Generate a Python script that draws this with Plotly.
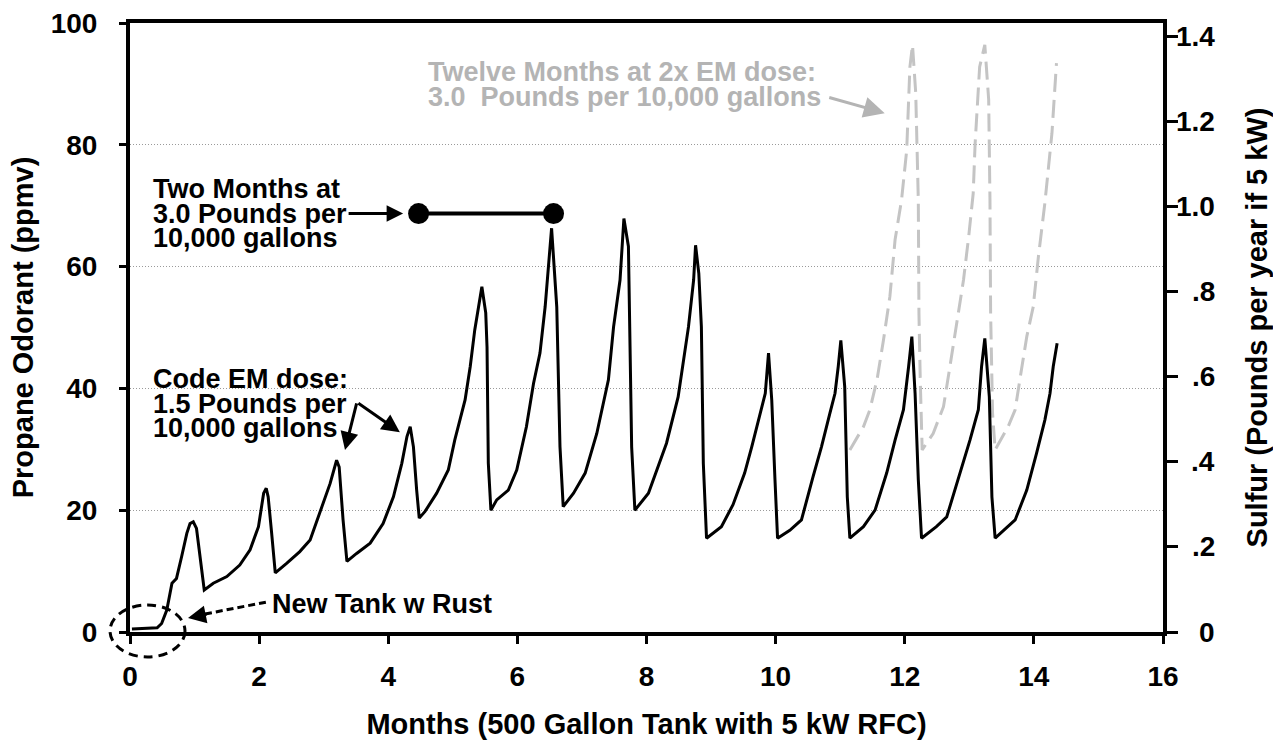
import plotly.graph_objects as go

# Measured propane odorant concentration (ppmv) versus months in service
months = [0.03, 0.42, 0.49, 0.57, 0.65, 0.72, 0.80, 0.88, 0.93, 0.98, 1.03, 1.08, 1.15,
          1.29, 1.50, 1.70, 1.86, 1.99, 2.07, 2.11, 2.14, 2.19, 2.25,
          2.43, 2.63, 2.79, 2.97, 3.10, 3.20, 3.24, 3.30, 3.36,
          3.51, 3.72, 3.92, 4.08, 4.21, 4.29, 4.34, 4.39, 4.44, 4.48,
          4.57, 4.75, 4.93, 5.03, 5.19, 5.27, 5.34, 5.45, 5.51, 5.53, 5.55, 5.59,
          5.68, 5.86, 5.99, 6.14, 6.25, 6.35, 6.43, 6.48, 6.53, 6.61, 6.66, 6.71,
          6.87, 7.05, 7.23, 7.41, 7.49, 7.59, 7.65, 7.72, 7.74, 7.77, 7.82,
          8.03, 8.31, 8.49, 8.65, 8.73, 8.76, 8.81, 8.85, 8.88, 8.93,
          9.16, 9.34, 9.52, 9.63, 9.76, 9.84, 9.89, 9.94, 9.99, 10.03,
          10.22, 10.40, 10.58, 10.71, 10.84, 10.92, 10.97, 11.01, 11.07, 11.11, 11.15,
          11.36, 11.54, 11.72, 11.85, 11.98, 12.06, 12.11, 12.16, 12.21, 12.26,
          12.49, 12.65, 12.86, 13.01, 13.14, 13.19, 13.24, 13.31, 13.35, 13.40,
          13.71, 13.89, 14.04, 14.17, 14.25, 14.30, 14.36]
odorant = [0.5, 0.7, 1.4, 3.6, 8.0, 8.8, 12.4, 16.2, 17.8, 18.1, 17.0, 12.4, 6.9,
           8.0, 9.1, 11.0, 13.5, 17.3, 22.8, 23.6, 22.2, 16.7, 9.7,
           11.3, 13.2, 15.1, 20.3, 24.4, 28.2, 27.1, 18.4, 11.6,
           12.9, 14.6, 17.8, 22.2, 27.7, 32.1, 33.7, 30.4, 23.3, 18.7,
           19.8, 22.8, 26.6, 31.5, 38.1, 43.6, 49.6, 56.7, 52.4, 46.8, 27.7, 20.0,
           21.7, 23.3, 26.6, 33.7, 40.8, 45.8, 53.4, 60.5, 66.3, 53.4, 30.4, 20.6,
           22.8, 26.1, 32.6, 41.4, 50.1, 57.8, 67.9, 63.3, 52.4, 30.4, 20.0,
           22.8, 31.0, 38.6, 50.1, 57.8, 63.5, 58.9, 50.1, 27.7, 15.4,
           17.3, 20.9, 26.1, 30.4, 35.9, 39.2, 45.8, 38.1, 25.0, 15.4,
           16.7, 18.4, 25.5, 30.4, 35.9, 39.2, 43.6, 47.9, 40.3, 22.2, 15.4,
           17.3, 20.0, 26.1, 31.5, 36.5, 43.6, 48.5, 39.2, 25.0, 15.4,
           17.3, 18.9, 26.1, 31.5, 36.5, 43.6, 48.2, 38.6, 22.2, 15.4,
           18.4, 23.3, 29.3, 34.8, 39.2, 43.6, 47.4]

# Projected concentration at twice the code EM dose
months_2x = [11.15, 11.36, 11.46, 11.57, 11.67, 11.77, 11.85, 11.95, 12.03, 12.08, 12.12,
             12.17, 12.21, 12.22, 12.24, 12.26, 12.27,
             12.44, 12.60, 12.70, 12.80, 12.91, 12.99, 13.06, 13.09, 13.16, 13.24,
             13.30, 13.32, 13.33, 13.36, 13.40,
             13.60, 13.71, 13.79, 13.89, 13.99, 14.07, 14.17, 14.28, 14.35]
odorant_2x = [29.9, 33.7, 36.5, 41.4, 47.9, 55.1, 64.4, 70.9, 79.1, 92.8, 96.4,
              88.5, 70.9, 52.3, 41.4, 30.4, 29.9,
              32.6, 37.0, 43.6, 50.7, 57.8, 64.9, 72.0, 80.2, 92.8, 96.4,
              87.4, 70.9, 52.4, 35.9, 29.9,
              33.7, 36.5, 41.9, 48.5, 53.4, 61.6, 70.4, 81.9, 93.4]

# Two-month period at 3.0 lb per 10,000 gal
dose_months = [4.47, 6.56]
dose_level = [68.7, 68.7]

x_ticks = [0, 2, 4, 6, 8, 10, 12, 14, 16]
left_ticks = [0, 20, 40, 60, 80, 100]
sulfur_ticks = [0, 0.2, 0.4, 0.6, 0.8, 1.0, 1.2, 1.4]
sulfur_labels = ["0", ".2", ".4", ".6", ".8", "1.0", "1.2", "1.4"]

FONT = "Liberation Sans, Arial, Helvetica, sans-serif"
GRAY = "#b4b4b4"

fig = go.Figure()

fig.add_trace(go.Scatter(
    x=months_2x, y=odorant_2x, mode="lines",
    line=dict(color="#c4c4c4", width=3, dash="18px,8px"),
    hoverinfo="skip", showlegend=False))

fig.add_trace(go.Scatter(
    x=months, y=odorant, mode="lines",
    line=dict(color="black", width=3),
    showlegend=False))

fig.add_trace(go.Scatter(
    x=dose_months, y=dose_level, mode="lines+markers",
    line=dict(color="black", width=4),
    marker=dict(size=21, color="black"),
    showlegend=False))

# carrier trace for the sulfur axis
fig.add_trace(go.Scatter(
    x=[None], y=[None], yaxis="y2", mode="lines",
    hoverinfo="skip", showlegend=False))

axis_font = dict(family=FONT, size=28, color="black", weight="bold")
title_font = dict(family=FONT, size=29, color="black", weight="bold")

fig.update_layout(
    width=1273, height=740,
    margin=dict(l=130, r=110, t=23, b=108, autoexpand=False),
    paper_bgcolor="white", plot_bgcolor="white",
    font=dict(family=FONT, color="black"),
    xaxis=dict(
        range=[0, 16], tickvals=x_ticks, ticks="outside", ticklen=8, tickwidth=3,
        tickcolor="black", showline=True, linewidth=4, linecolor="black", mirror=True,
        showgrid=False, zeroline=False, tickfont=axis_font, ticklabelstandoff=8,
        automargin=False,
        title=dict(text="Months (500 Gallon Tank with 5 kW RFC)", font=title_font, standoff=24),
    ),
    yaxis=dict(
        range=[0, 100], tickvals=left_ticks, ticks="outside", ticklen=7, tickwidth=3,
        tickcolor="black", showline=True, linewidth=4, linecolor="black", mirror=True,
        showgrid=True, gridcolor="#9a9a9a", gridwidth=1, griddash="1px,2px",
        zeroline=False, tickfont=axis_font, ticklabelstandoff=16, automargin=False,
        title=dict(text="Propane Odorant (ppmv)", font=title_font, standoff=10),
    ),
    yaxis2=dict(
        overlaying="y", side="right", range=[0, 1.4 * 609 / 595.3],
        tickvals=sulfur_ticks, ticks="outside", ticklen=11, tickwidth=3,
        tickcolor="black", showline=True, linewidth=4, linecolor="black",
        showgrid=False, zeroline=False, showticklabels=False, automargin=False,
        title=dict(text="Sulfur (Pounds per year if 5 kW)", font=title_font, standoff=72),
    ),
)

# right-aligned sulfur tick labels
for v, lab in zip(sulfur_ticks, sulfur_labels):
    fig.add_annotation(x=1, xref="paper", y=v, yref="y2", text=lab, showarrow=False,
                       xanchor="right", yanchor="middle", xshift=54,
                       font=axis_font)

note_font = dict(family=FONT, size=27, color="black", weight="bold")
gray_font = dict(family=FONT, size=27, color=GRAY, weight="bold")


def text_lines(lines, x_px, y_px, font, step=24.5):
    for i, line in enumerate(lines):
        fig.add_annotation(x=(x_px - 130) / 1033, xref="paper",
                           y=(632 - (y_px + i * step)) / 609, yref="paper",
                           text=line, showarrow=False, xanchor="left", yanchor="middle",
                           font=font)


text_lines(["Two Months at", "3.0 Pounds per", "10,000 gallons"], 151, 189, note_font)
text_lines(["Code EM dose:", "1.5 Pounds per", "10,000 gallons"], 151, 379, note_font)
text_lines(["New Tank w Rust"], 270, 604, note_font)
text_lines(["Twelve Months at 2x EM dose:", "3.0  Pounds per 10,000 gallons"], 426, 72, gray_font)

# arrow into the two-month bar
fig.add_annotation(x=4.23, y=68.7, ax=-56, ay=0, text="", showarrow=True,
                   arrowhead=2, arrowsize=1.1, arrowwidth=3, arrowcolor="black")
# arrows to the code-dose peaks
fig.add_annotation(x=3.33, y=29.9, ax=12, ay=-48, text="", showarrow=True,
                   arrowhead=2, arrowsize=1.2, arrowwidth=3, arrowcolor="black")
fig.add_annotation(x=4.18, y=32.8, ax=-43, ay=-30, text="", showarrow=True,
                   arrowhead=2, arrowsize=1.2, arrowwidth=3, arrowcolor="black")
# arrow toward the 2x dose curves
fig.add_annotation(x=11.69, y=85.2, ax=-57, ay=-16, text="", showarrow=True,
                   arrowhead=2, arrowsize=1.4, arrowwidth=3, arrowcolor=GRAY)
# dotted pointer to the new-tank region
fig.add_shape(type="line", xref="paper", yref="paper",
              x0=(205 - 130) / 1033, y0=(632 - 614) / 609,
              x1=(267 - 130) / 1033, y1=(632 - 602) / 609,
              line=dict(color="black", width=3, dash="7px,4px"))
fig.add_annotation(x=(188 - 130) / 64.56, y=(632 - 618) / 6.09, ax=20, ay=-4, text="",
                   showarrow=True, arrowhead=2, arrowsize=1.2, arrowwidth=3,
                   arrowcolor="black")
# dashed ellipse around the start-up period
fig.add_shape(type="circle", xref="paper", yref="paper",
              x0=(110 - 130) / 1033, x1=(185 - 130) / 1033,
              y0=(632 - 657) / 609, y1=(632 - 605) / 609,
              line=dict(color="black", width=3, dash="9px,6px"))

fig.write_html("out.html")
